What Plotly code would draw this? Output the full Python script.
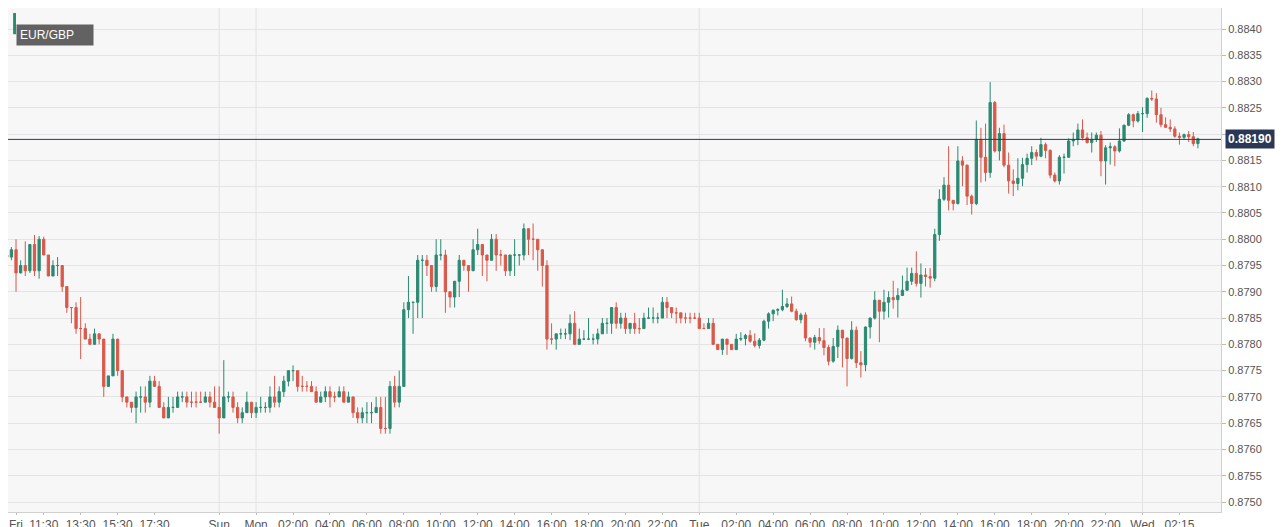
import plotly.graph_objects as go

# 15-minute EUR/GBP candles, index = candle number
closes = [
    0.87966, 0.8798, 0.87936, 0.8795, 0.8794, 0.8799, 0.8794, 0.8800, 0.8797, 0.8793,
    0.8795, 0.8795, 0.8791, 0.8787, 0.8787, 0.8783, 0.8783, 0.8781, 0.8780, 0.8782,
    0.8781, 0.8772, 0.8774, 0.8781, 0.8775, 0.8770, 0.8769, 0.8768, 0.8770, 0.8770,
    0.8769, 0.8773, 0.8772, 0.8768, 0.8766, 0.8768, 0.8768, 0.8770, 0.8770, 0.8769,
    0.8769, 0.8769, 0.8769, 0.8770, 0.8769, 0.8768, 0.8766, 0.8770, 0.8770, 0.8768,
    0.8766, 0.8767, 0.8769, 0.8767, 0.8768, 0.8768, 0.8768, 0.8770, 0.8769, 0.8771,
    0.8773, 0.8775, 0.8775, 0.8772, 0.8772, 0.8772, 0.8771, 0.8769, 0.8770, 0.8771,
    0.8770, 0.8770, 0.8771, 0.8769, 0.8770, 0.8767, 0.8766, 0.8767, 0.8767, 0.8767,
    0.8768, 0.8764, 0.8764, 0.8772, 0.8769, 0.8772, 0.87866, 0.8788, 0.8788, 0.8796,
    0.8796, 0.8795, 0.8791, 0.8797, 0.8797, 0.8790, 0.8789, 0.8792, 0.8796, 0.8795,
    0.8794, 0.8798, 0.8799, 0.8797, 0.8796, 0.8800, 0.8797, 0.8797, 0.8794, 0.8797,
    0.8797, 0.8797, 0.8802, 0.8800, 0.8800, 0.8798, 0.8795, 0.8781, 0.8781, 0.8782,
    0.8782, 0.8782, 0.8784, 0.8780, 0.8781, 0.8781, 0.8781, 0.8781, 0.8782, 0.8784,
    0.8784, 0.8787, 0.8784, 0.8785, 0.8783, 0.8784, 0.8783, 0.8783, 0.8785, 0.8785,
    0.8785, 0.8785, 0.8788, 0.8787, 0.8786, 0.8786, 0.8785, 0.8785, 0.8785, 0.8785,
    0.8783, 0.8783, 0.8784, 0.8780, 0.8779, 0.8781, 0.8780, 0.8779, 0.8781, 0.87811,
    0.87817, 0.87806, 0.87798, 0.87808, 0.87844, 0.87858, 0.87865, 0.87866, 0.87872, 0.87877,
    0.87863, 0.87847, 0.87856, 0.87812, 0.87804, 0.87813, 0.87807, 0.87794, 0.87768, 0.87796,
    0.87827, 0.87812, 0.87773, 0.87827, 0.87765, 0.87761, 0.87833, 0.8785, 0.87884, 0.87863,
    0.8788, 0.87889, 0.87885, 0.87893, 0.87903, 0.8792, 0.87935, 0.87916, 0.87932, 0.87929,
    0.87926, 0.88009, 0.88076, 0.88103, 0.88074, 0.88068, 0.88149, 0.88141, 0.88082, 0.88068,
    0.8819, 0.88156, 0.88127, 0.8826, 0.88168, 0.88201, 0.88141, 0.88111, 0.88106, 0.88116,
    0.88142, 0.88154, 0.88165, 0.88158, 0.8818, 0.88169, 0.88122, 0.88111, 0.88156, 0.88156,
    0.88187, 0.8819, 0.88208, 0.88193, 0.88184, 0.8819, 0.88198, 0.88149, 0.88174, 0.88176,
    0.88168, 0.88187, 0.88217, 0.88237, 0.88225, 0.88239, 0.88239, 0.88268, 0.88267, 0.88237,
    0.88218, 0.88213, 0.8821, 0.88196, 0.88194, 0.88199, 0.88195, 0.88182, 0.88191,
]
highs = [
    0.8798, 0.87985, 0.8800, 0.8796, 0.87996, 0.8799, 0.88008, 0.88006, 0.88005, 0.8797,
    0.8796, 0.87966, 0.8795, 0.8790, 0.8787, 0.8788, 0.8789, 0.8784, 0.8782, 0.8783,
    0.8782, 0.8781, 0.8774, 0.8782, 0.8781, 0.8775, 0.8770, 0.8769, 0.8771, 0.8772,
    0.8772, 0.8774, 0.8774, 0.8773, 0.8769, 0.8770, 0.8770, 0.8771, 0.8771, 0.8771,
    0.8771, 0.8771, 0.8771, 0.8771, 0.8771, 0.8772, 0.8772, 0.8777, 0.8771, 0.8771,
    0.8769, 0.8768, 0.8771, 0.8769, 0.8769, 0.8770, 0.8769, 0.8772, 0.8774, 0.8772,
    0.8774, 0.8775, 0.8776, 0.8775, 0.8774, 0.8773, 0.8773, 0.8772, 0.8771, 0.8772,
    0.8772, 0.8771, 0.8772, 0.8772, 0.8771, 0.8770, 0.8768, 0.8768, 0.8769, 0.8769,
    0.8770, 0.8770, 0.8770, 0.8773, 0.8774, 0.8775, 0.8788, 0.8793, 0.8788, 0.8797,
    0.8797, 0.8797, 0.8795, 0.8800, 0.8800, 0.8798, 0.8790, 0.8792, 0.8797, 0.8796,
    0.8795, 0.8800, 0.8802, 0.8798, 0.8797, 0.8801, 0.8801, 0.8798, 0.8797, 0.8797,
    0.8800, 0.8797, 0.8803, 0.8802, 0.8803, 0.8800, 0.8796, 0.8796, 0.8784, 0.8782,
    0.8783, 0.8783, 0.87857, 0.87863, 0.8783, 0.87827, 0.8785, 0.8782, 0.8783, 0.8785,
    0.8785, 0.8787, 0.8788, 0.8786, 0.8786, 0.8784, 0.8786, 0.8785, 0.8786, 0.8787,
    0.8787, 0.8786, 0.8789, 0.8789, 0.8787, 0.8787, 0.8786, 0.8786, 0.8786, 0.8786,
    0.8786, 0.8784, 0.8785, 0.8785, 0.8780, 0.8781, 0.8781, 0.8780, 0.8782, 0.87823,
    0.8782, 0.87827, 0.87821, 0.87812, 0.87847, 0.87861, 0.87866, 0.87869, 0.87904, 0.87888,
    0.87891, 0.87868, 0.8786, 0.87861, 0.87813, 0.87818, 0.87831, 0.87831, 0.87799, 0.87812,
    0.87836, 0.87823, 0.87812, 0.87844, 0.87834, 0.87787, 0.87834, 0.87851, 0.87901, 0.87882,
    0.87904, 0.87901, 0.87921, 0.87907, 0.87931, 0.87946, 0.87946, 0.87977, 0.87954, 0.87945,
    0.87945, 0.8802, 0.88095, 0.88118, 0.88177, 0.88073, 0.88177, 0.88158, 0.88142, 0.88085,
    0.88226, 0.88212, 0.8822, 0.88299, 0.88263, 0.88212, 0.88218, 0.88165, 0.88133, 0.88154,
    0.88155, 0.88163, 0.88177, 0.88171, 0.88193, 0.88184, 0.88171, 0.88127, 0.8816, 0.88163,
    0.88192, 0.88203, 0.8822, 0.88228, 0.88203, 0.88203, 0.88203, 0.88206, 0.88179, 0.88184,
    0.88179, 0.88211, 0.88218, 0.8824, 0.88239, 0.88244, 0.88251, 0.8827, 0.88283, 0.88278,
    0.8825, 0.88232, 0.88228, 0.88215, 0.88203, 0.88201, 0.88206, 0.88204, 0.88193,
]
lows = [
    0.8791, 0.8796, 0.8790, 0.87935, 0.8793, 0.87936, 0.8793, 0.87925, 0.8797, 0.8793,
    0.8793, 0.8793, 0.8790, 0.8786, 0.8784, 0.8782, 0.87772, 0.8781, 0.8780, 0.8780,
    0.8780, 0.8770, 0.8773, 0.8774, 0.8774, 0.8769, 0.8768, 0.8767, 0.8765, 0.8767,
    0.8767, 0.8768, 0.8772, 0.8768, 0.8766, 0.8766, 0.8767, 0.8768, 0.8769, 0.8768,
    0.8768, 0.8768, 0.8769, 0.8769, 0.8768, 0.8768, 0.8763, 0.8769, 0.8769, 0.8767,
    0.8765, 0.8765, 0.8767, 0.8766, 0.8766, 0.8767, 0.8767, 0.8767, 0.8768, 0.8768,
    0.8770, 0.8772, 0.8773, 0.8771, 0.8771, 0.8771, 0.8771, 0.8769, 0.8769, 0.8769,
    0.8768, 0.8769, 0.8770, 0.8769, 0.8769, 0.8766, 0.8765, 0.8765, 0.8765, 0.8765,
    0.8767, 0.8763, 0.8763, 0.8763, 0.8768, 0.8768, 0.8772, 0.8785, 0.8782, 0.8785,
    0.8785, 0.8793, 0.8790, 0.8790, 0.8796, 0.8786, 0.8787, 0.8787, 0.8789, 0.8794,
    0.8790, 0.8794, 0.8797, 0.8793, 0.8792, 0.8797, 0.8794, 0.8795, 0.8793, 0.8793,
    0.8793, 0.8795, 0.8796, 0.8797, 0.8796, 0.8794, 0.8791, 0.8779, 0.8780, 0.8779,
    0.8781, 0.8781, 0.87808, 0.8780, 0.8780, 0.87808, 0.8781, 0.8780, 0.8780, 0.8782,
    0.8782, 0.8782, 0.8783, 0.8783, 0.8782, 0.8782, 0.8782, 0.8782, 0.8783, 0.8785,
    0.8784, 0.8784, 0.8786, 0.8785, 0.8785, 0.8784, 0.8784, 0.8784, 0.8784, 0.8785,
    0.8783, 0.8783, 0.8783, 0.8780, 0.8779, 0.8778, 0.8778, 0.8779, 0.8780, 0.87806,
    0.87798, 0.87803, 0.87794, 0.87792, 0.87806, 0.8783, 0.87844, 0.87855, 0.87863, 0.87869,
    0.87861, 0.87845, 0.8784, 0.87806, 0.87794, 0.8779, 0.87801, 0.87779, 0.8776, 0.87765,
    0.87774, 0.87756, 0.8772, 0.87771, 0.87755, 0.87737, 0.87749, 0.87811, 0.87847, 0.87804,
    0.87847, 0.87851, 0.87868, 0.87851, 0.87894, 0.87907, 0.87913, 0.8791, 0.87889, 0.8791,
    0.87908, 0.8792, 0.87997, 0.88073, 0.88055, 0.88055, 0.88066, 0.88101, 0.88065, 0.88047,
    0.88065, 0.88108, 0.8811, 0.88117, 0.88165, 0.8815, 0.88137, 0.88087, 0.88082, 0.88093,
    0.88101, 0.88127, 0.88141, 0.8815, 0.88156, 0.88154, 0.88116, 0.88108, 0.88104, 0.88125,
    0.88155, 0.88177, 0.88179, 0.88188, 0.88182, 0.88165, 0.88185, 0.8812, 0.88104, 0.88142,
    0.88139, 0.88165, 0.88185, 0.88215, 0.88213, 0.88222, 0.88204, 0.88231, 0.88263, 0.88222,
    0.88213, 0.88212, 0.88204, 0.88193, 0.8818, 0.8819, 0.88185, 0.88177, 0.88173,
]
first_open = 0.8797
opens = [first_open] + closes[:-1]
idx = list(range(len(closes)))

tick_pos = [2, 8, 16, 24, 32, 46, 54, 62, 70, 78, 86, 94, 102, 110, 118, 126, 134, 142,
            150, 158, 166, 174, 182, 190, 198, 206, 214, 222, 230, 238, 246, 254]
tick_text = ["Fri", "11:30", "13:30", "15:30", "17:30", "Sun", "Mon", "02:00", "04:00",
             "06:00", "08:00", "10:00", "12:00", "14:00", "16:00", "18:00", "20:00", "22:00",
             "Tue", "02:00", "04:00", "06:00", "08:00", "10:00", "12:00", "14:00", "16:00",
             "18:00", "20:00", "22:00", "Wed", "02:15"]
day_labels = ["Sun", "Mon", "Tue", "Wed"]
price_ticks = [0.8750, 0.8755, 0.8760, 0.8765, 0.8770, 0.8775, 0.8780, 0.8785, 0.8790,
               0.8795, 0.8800, 0.8805, 0.8810, 0.8815, 0.8820, 0.8825, 0.8830, 0.8835, 0.8840]
last_price = 0.88190
symbol = "EUR/GBP"

green = "#2b8a72"
red = "#d9584a"

fig = go.Figure()
fig.add_trace(go.Candlestick(
    x=idx, open=opens, high=highs, low=lows, close=closes,
    increasing=dict(line=dict(color=green, width=1), fillcolor=green),
    decreasing=dict(line=dict(color=red, width=1), fillcolor=red),
    whiskerwidth=0, showlegend=False, hoverinfo="skip",
))

for p, t in zip(tick_pos, tick_text):
    if t in day_labels:
        fig.add_vline(x=p, line=dict(color="#e2e2e2", width=1), layer="below")

fig.add_hline(y=last_price, line=dict(color="#2a3855", width=1))
fig.add_annotation(x=1, xref="paper", xanchor="left", y=last_price, yref="y",
                   text=f"<b>{last_price:.5f}</b>", showarrow=False,
                   font=dict(color="white", size=12, family="Liberation Sans"),
                   bgcolor="#2a3855", borderpad=2, xshift=4)

# symbol badge
fig.add_shape(type="rect", xref="paper", yref="paper", x0=0.0042, x1=0.0066,
              y0=0.948, y1=0.99, fillcolor=green, line_width=0)
fig.add_annotation(x=0.0066, xref="paper", xanchor="left", y=0.969, yref="paper",
                   text=symbol, showarrow=False, align="left",
                   font=dict(color="white", size=12, family="Liberation Sans"),
                   bgcolor="#626262", borderpad=3, width=70)

fig.update_xaxes(range=[0.26, 263.0], tickvals=tick_pos, ticktext=tick_text,
                 showgrid=False, rangeslider_visible=False, ticks="outside", ticklen=2,
                 tickcolor="#bbbbbb", showline=True, linecolor="#d0d0d0",
                 tickfont=dict(size=12, color="#555555", family="Liberation Sans"))
fig.update_yaxes(range=[0.87481, 0.88440], side="right", tickvals=price_ticks,
                 tickformat=".4f", gridcolor="#e4e4e4", ticks="outside", ticklen=4,
                 tickcolor="#bbbbbb", showline=True, linecolor="#d0d0d0", zeroline=False,
                 tickfont=dict(size=11, color="#555555", family="Liberation Sans"))
fig.update_layout(width=1288, height=527,
                  margin=dict(l=0, r=75, t=0, b=23, autoexpand=False),
                  plot_bgcolor="#f7f7f7", paper_bgcolor="white")

fig.write_html("out.html")
